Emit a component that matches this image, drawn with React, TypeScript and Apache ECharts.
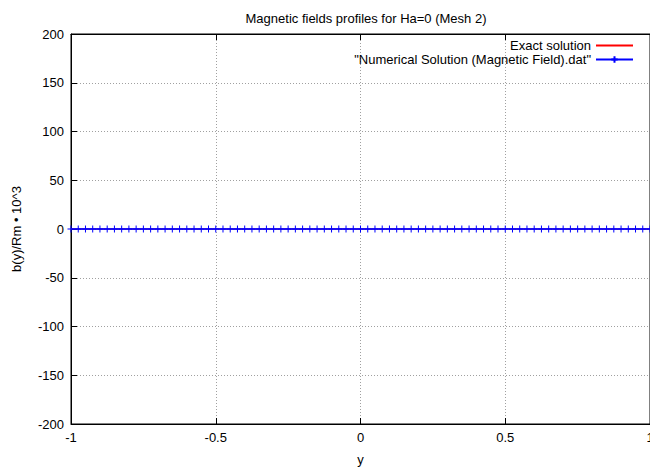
import React, { useEffect, useRef } from "react";
import * as echarts from "echarts";

const titleText = "Magnetic fields profiles for Ha=0 (Mesh 2)";
const xName = "y";
const yName = "b(y)/Rm • 10^3";
const exactName = "Exact solution";
const numericalName = "\"Numerical Solution (Magnetic Field).dat\"";

const xValues = [
  -1, -0.975, -0.95, -0.925, -0.9, -0.875, -0.85, -0.825, -0.8, -0.775,
  -0.75, -0.725, -0.7, -0.675, -0.65, -0.625, -0.6, -0.575, -0.55, -0.525,
  -0.5, -0.475, -0.45, -0.425, -0.4, -0.375, -0.35, -0.325, -0.3, -0.275,
  -0.25, -0.225, -0.2, -0.175, -0.15, -0.125, -0.1, -0.075, -0.05, -0.025,
  0, 0.025, 0.05, 0.075, 0.1, 0.125, 0.15, 0.175, 0.2, 0.225,
  0.25, 0.275, 0.3, 0.325, 0.35, 0.375, 0.4, 0.425, 0.45, 0.475,
  0.5, 0.525, 0.55, 0.575, 0.6, 0.625, 0.65, 0.675, 0.7, 0.725,
  0.75, 0.775, 0.8, 0.825, 0.85, 0.875, 0.9, 0.925, 0.95, 0.975, 1,
];

const exactValues = [
  0, 0, 0, 0, 0, 0, 0, 0, 0, 0,
  0, 0, 0, 0, 0, 0, 0, 0, 0, 0,
  0, 0, 0, 0, 0, 0, 0, 0, 0, 0,
  0, 0, 0, 0, 0, 0, 0, 0, 0, 0,
  0, 0, 0, 0, 0, 0, 0, 0, 0, 0,
  0, 0, 0, 0, 0, 0, 0, 0, 0, 0,
  0, 0, 0, 0, 0, 0, 0, 0, 0, 0,
  0, 0, 0, 0, 0, 0, 0, 0, 0, 0, 0,
];

const numericalValues = [
  0, 0, 0, 0, 0, 0, 0, 0, 0, 0,
  0, 0, 0, 0, 0, 0, 0, 0, 0, 0,
  0, 0, 0, 0, 0, 0, 0, 0, 0, 0,
  0, 0, 0, 0, 0, 0, 0, 0, 0, 0,
  0, 0, 0, 0, 0, 0, 0, 0, 0, 0,
  0, 0, 0, 0, 0, 0, 0, 0, 0, 0,
  0, 0, 0, 0, 0, 0, 0, 0, 0, 0,
  0, 0, 0, 0, 0, 0, 0, 0, 0, 0, 0,
];

const FONT = "'Liberation Sans', Arial, sans-serif";
const PLUS = "path://M0,5L10,5M5,0L5,10";

export default function App() {
  const ref = useRef<HTMLDivElement>(null);
  useEffect(() => {
    if (!ref.current) return;
    const chart = echarts.init(ref.current, undefined, { renderer: "svg" });
    const gridLine = { show: true, lineStyle: { color: "#a0a0a0", type: [1, 2] as any, width: 1 } };
    const txt = { fontSize: 13, color: "#000", fontFamily: FONT };
    chart.setOption({
      animation: false,
      backgroundColor: "#fff",
      textStyle: { fontFamily: FONT },
      title: {
        text: titleText,
        left: 361,
        top: 7,
        textAlign: "center",
        textStyle: { ...txt, fontWeight: "normal" },
      },
      legend: {
        orient: "vertical",
        right: 16,
        top: 39,
        padding: 0,
        align: "right",
        itemWidth: 37,
        itemHeight: 8,
        itemGap: 1,
        textStyle: { ...txt, lineHeight: 13, padding: [0, 0, 0, 0] },
        data: [
          { name: exactName, itemStyle: { opacity: 0 } },
          { name: numericalName },
        ],
      },
      grid: {
        left: 71,
        right: 0,
        top: 34,
        bottom: 47,
        outerBoundsMode: "none",
        containLabel: false,
        show: true,
        borderColor: "#000",
        borderWidth: 1,
      },
      xAxis: [
        {
          type: "value",
          min: -1,
          max: 1,
          interval: 0.5,
          name: xName,
          nameLocation: "middle",
          nameGap: 29,
          nameTextStyle: txt,
          axisLine: { show: true, onZero: false, lineStyle: { color: "#000", width: 1 } },
          axisTick: { show: true, inside: true, length: 6, lineStyle: { color: "#000" } },
          axisLabel: { ...txt, margin: 7 },
          splitLine: gridLine,
        },
        {
          type: "value",
          position: "top",
          min: -1,
          max: 1,
          interval: 0.5,
          axisLine: { show: true, onZero: false, lineStyle: { color: "#000", width: 1 } },
          axisTick: { show: true, inside: true, length: 6, lineStyle: { color: "#000" } },
          axisLabel: { show: false },
          splitLine: { show: false },
        },
      ],
      yAxis: [
        {
          type: "value",
          min: -200,
          max: 200,
          interval: 50,
          name: yName,
          nameLocation: "middle",
          nameGap: 48,
          nameTextStyle: txt,
          axisLine: { show: true, onZero: false, lineStyle: { color: "#000", width: 1 } },
          axisTick: { show: true, inside: true, length: 6, lineStyle: { color: "#000" } },
          axisLabel: { ...txt, margin: 7 },
          splitLine: gridLine,
        },
      ],
      series: [
        {
          name: exactName,
          type: "line",
          color: "#ff0000",
          data: xValues.map((x, i) => [x, exactValues[i]]),
          symbol: "none",
          lineStyle: { color: "#ff0000", width: 1.2 },
          itemStyle: { color: "#ff0000" },
          z: 2,
        },
        {
          name: numericalName,
          type: "line",
          color: "#0000ff",
          data: xValues.map((x, i) => [x, numericalValues[i]]),
          symbol: PLUS,
          symbolSize: 7,
          showAllSymbol: true,
          lineStyle: { color: "#0000ff", width: 1.5 },
          itemStyle: { color: "#0000ff", borderColor: "#0000ff", borderWidth: 1 },
          z: 3,
        },
      ],
    });
    return () => chart.dispose();
  }, []);
  return (
    <div
      ref={ref}
      style={{ position: "absolute", left: 0, top: 0, width: 650, height: 471 }}
    />
  );
}
